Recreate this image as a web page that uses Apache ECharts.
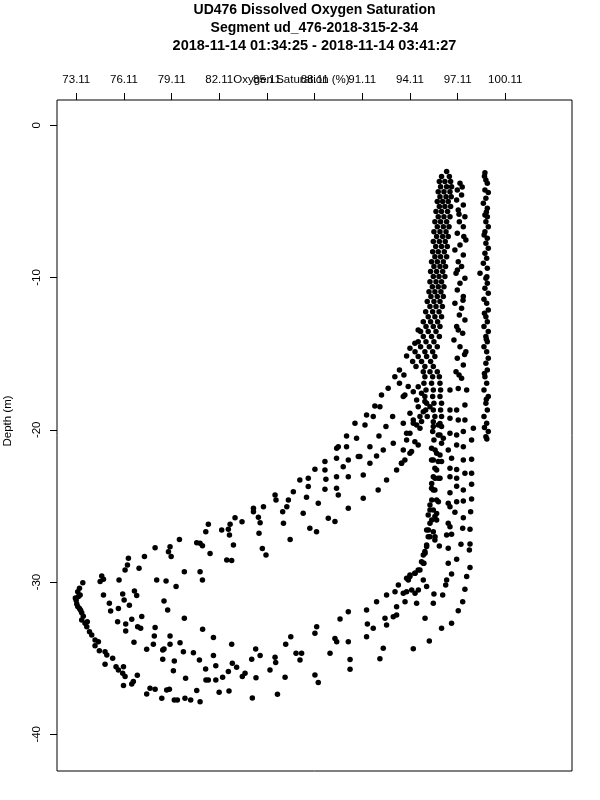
<!DOCTYPE html>
<html>
<head>
<meta charset="utf-8">
<script src="https://cdn.jsdelivr.net/npm/echarts/dist/echarts.min.js"></script>
<style>
html,body{margin:0;padding:0;background:#fff;}
#chart{width:600px;height:800px;}
</style>
</head>
<body>
<div id="chart"></div>
<script>
const titleLines = [
  'UD476 Dissolved Oxygen Saturation',
  'Segment ud_476-2018-315-2-34',
  '2018-11-14 01:34:25 - 2018-11-14 03:41:27'
];
const xAxisName = 'Oxygen Saturation (%)';
const yAxisName = 'Depth (m)';
const xTickValues = [73.11, 76.11, 79.11, 82.11, 85.11, 88.11, 91.11, 94.11, 97.11, 100.11];
const yTickValues = [0, -10, -20, -30, -40];

// [oxygen saturation %, depth m]
const rightColumn = [
[98.83,-3.11],[98.80,-3.35],[98.89,-3.59],[98.98,-3.81],[98.83,-4.25],[99.04,-4.42],[98.89,-4.80],[98.73,-5.12],[98.98,-5.45],[98.92,-5.70],
[98.83,-5.89],[98.98,-6.00],[98.89,-6.33],[99.04,-6.66],[98.83,-6.99],[98.78,-7.20],[98.98,-7.42],[98.89,-7.75],[99.04,-8.08],[98.83,-8.41],
[98.94,-8.74],[98.73,-9.06],[98.98,-9.39],[98.52,-9.72],[98.95,-9.95],[98.89,-10.05],[98.98,-10.38],[98.83,-10.71],[99.04,-11.04],[98.77,-11.43],
[98.94,-11.69],[99.04,-12.13],[98.80,-12.35],[98.89,-12.57],[98.98,-12.90],[98.77,-13.22],[99.04,-13.55],[98.89,-13.88],[98.92,-14.05],[98.98,-14.21],
[98.77,-14.54],[98.94,-14.87],[99.04,-15.30],[98.89,-15.63],[98.98,-16.07],[98.80,-16.30],[98.83,-16.51],[98.94,-16.94],[98.77,-17.38],[99.04,-17.82],
[98.92,-18.00],[98.89,-18.26],[98.98,-18.70],[98.77,-19.13],[98.94,-19.57],[98.80,-19.85],[99.04,-20.12],[98.89,-20.45],[98.95,-20.60]
];

const middleColumn = [
[97.26,-3.81],[97.40,-4.05],[97.09,-4.25],[97.36,-4.58],[97.05,-4.91],[97.47,-5.23],[97.15,-5.56],[97.20,-5.85],[97.57,-6.00],[97.22,-6.33],
[97.47,-6.66],[97.09,-7.09],[97.50,-7.30],[97.63,-7.53],[97.26,-7.86],[96.94,-8.19],[97.47,-8.52],[97.15,-8.96],[97.36,-9.28],[97.10,-9.50],
[97.01,-9.72],[97.57,-10.05],[97.26,-10.38],[97.09,-10.82],[97.47,-11.25],[97.45,-11.50],[96.94,-11.69],[97.36,-12.02],[97.22,-12.46],[97.57,-12.79],
[97.05,-13.22],[97.15,-13.45],[97.43,-13.66],[96.88,-14.10],[97.26,-14.54],[97.63,-14.87],[97.55,-15.05],[97.09,-15.30],[97.47,-15.74],[97.01,-16.18],
[97.20,-16.40],[97.36,-16.62],
[96.63,-17.39],[97.15,-17.28],[97.68,-17.39],[96.63,-18.70],[97.05,-18.70],[97.57,-18.37],[97.57,-19.36],[97.15,-19.36],[96.63,-19.25],
[96.63,-20.23],[97.05,-20.34],[97.47,-20.12],[98.10,-19.90],[96.52,-21.33],[97.05,-21.00],[97.47,-21.11],[97.99,-20.67],[96.73,-21.87],[97.47,-21.98],
[97.99,-21.94],[96.63,-22.53],[97.05,-22.60],[97.57,-22.86],[97.99,-22.86],[96.63,-23.08],[97.05,-23.19],[97.99,-23.58],[96.63,-24.13],[97.05,-23.70],
[97.47,-23.95],[97.99,-24.54],[96.52,-24.83],[97.05,-24.72],[97.47,-24.68],[96.63,-25.05],[96.94,-25.42],[97.47,-25.77],[97.93,-25.38],[96.52,-26.14],
[96.63,-26.36],[97.43,-26.47],[97.89,-26.54],[96.42,-26.91],[96.73,-26.86],[96.52,-27.78],[97.32,-27.52],[97.89,-27.50],[97.85,-27.89],[97.05,-28.51],
[96.52,-28.77],[97.89,-29.05],[96.73,-29.47],[97.68,-29.64],[96.42,-29.86],[96.36,-30.19],[97.57,-30.48],[96.17,-30.85],[95.62,-30.78],[97.43,-31.29],
[97.15,-31.88],[96.73,-32.71],[96.10,-33.04],[95.33,-33.87],[95.58,-31.40],[95.06,-32.38]
];

const denseColumn = [
[96.42,-3.04],[96.10,-3.37],[96.59,-3.37],[95.96,-3.70],[96.31,-3.70],[96.67,-3.70],[96.04,-4.03],[96.42,-4.03],[96.73,-4.03],
[95.89,-4.36],[96.25,-4.36],[96.63,-4.36],[96.00,-4.69],[96.38,-4.69],[96.71,-4.69],[95.83,-5.01],[96.17,-5.01],[96.52,-5.01],
[95.96,-5.34],[96.31,-5.34],[96.67,-5.34],[95.75,-5.67],[96.10,-5.67],[96.48,-5.67],[95.89,-6.00],[96.25,-6.00],[96.63,-6.00],
[95.68,-6.33],[96.04,-6.33],[96.42,-6.33],[95.83,-6.66],[96.21,-6.66],[96.57,-6.66],[95.62,-6.99],[96.00,-6.99],[96.38,-6.99],
[95.79,-7.31],[96.17,-7.31],[96.52,-7.31],[95.58,-7.64],[95.96,-7.64],[96.33,-7.64],[95.73,-7.97],[96.10,-7.97],[96.46,-7.97],
[95.54,-8.30],[95.89,-8.30],[96.27,-8.30],[95.68,-8.63],[96.04,-8.63],[96.42,-8.63],[95.47,-8.96],[95.83,-8.96],[96.21,-8.96],
[95.62,-9.28],[96.00,-9.28],[96.35,-9.28],[95.41,-9.61],[95.79,-9.61],[96.17,-9.61],[95.58,-9.94],[95.94,-9.94],[96.31,-9.94],
[95.37,-10.27],[95.75,-10.27],[96.10,-10.27],[95.52,-10.60],[95.89,-10.60],[96.25,-10.60],[95.31,-10.93],[95.68,-10.93],[96.06,-10.93],
[95.43,-11.25],[95.83,-11.25],[96.21,-11.25],[95.20,-11.58],[95.62,-11.58],[96.00,-11.58],[95.37,-11.91],[95.75,-11.91],[96.15,-11.91],
[95.10,-12.24],[95.54,-12.24],[95.94,-12.24],[95.26,-12.57],[95.68,-12.57],[96.10,-12.57],[94.95,-12.90],[95.41,-12.90],[95.85,-12.90],
[95.12,-13.22],[95.58,-13.22],[96.00,-13.22],[94.78,-13.55],[95.26,-13.55],[95.75,-13.55],[94.95,-13.88],[95.47,-13.88],[95.96,-13.88],
[94.63,-14.21],[95.12,-14.21],[95.62,-14.21],[94.78,-14.54],[95.33,-14.54],[95.83,-14.54],[94.43,-14.87],[95.05,-14.87],[95.54,-14.87],
[94.63,-15.19],[95.16,-15.19],[95.68,-15.19],[94.28,-15.52],[94.84,-15.52],[95.41,-15.52],[94.49,-15.85],[95.05,-15.85],[95.58,-15.85],
[94.95,-16.18],[95.37,-16.18],[95.83,-16.18],[95.05,-16.51],[95.54,-16.51],[95.96,-16.51],[94.99,-16.94],[95.47,-16.94],[96.00,-16.94],
[95.12,-17.38],[95.58,-17.38],[96.04,-17.38],[95.05,-17.82],[95.54,-17.82],[96.00,-17.82],[95.16,-18.26],[95.62,-18.26],[96.10,-18.26],
[95.10,-18.70],[95.58,-18.70],[96.04,-18.70],[95.20,-19.13],[95.68,-19.13],[96.10,-19.13],
[95.58,-19.47],[95.90,-19.68],[96.10,-19.79],[95.54,-20.12],[96.00,-20.34],[95.62,-20.67],[96.10,-20.89],[95.69,-21.33],[96.00,-21.65],
[95.58,-21.98],[96.10,-22.09],[95.79,-22.64],[95.69,-23.19],[96.00,-23.19],[95.48,-23.52],[95.58,-23.95],[95.48,-24.61],[95.90,-24.72],
[95.37,-25.27],[95.79,-25.49],[95.48,-25.92],[95.79,-25.92],[95.27,-26.58],[95.69,-27.02],[95.37,-27.02],[95.16,-27.67],[95.96,-27.63],
[95.06,-28.11],[94.95,-28.77],[94.74,-29.21],[94.43,-29.43],[94.11,-29.64],[94.01,-29.87],[94.22,-30.52],[93.90,-30.63],[93.38,-30.20],
[93.17,-30.63],[92.64,-30.85],[92.01,-31.29],[91.38,-31.84],[90.23,-31.95],[89.71,-32.43],[88.24,-32.93],[88.13,-33.37],
[94.95,-29.86],[94.64,-30.52],[95.16,-30.30],
[96.00,-19.58],[95.58,-19.79],[95.89,-20.34],[96.21,-20.56],[95.47,-21.22],[95.79,-21.54],[95.47,-21.98],[95.89,-22.09],[95.68,-22.53],
[95.58,-23.08],[95.89,-23.19],[95.47,-23.84],[95.68,-23.95],[95.79,-24.61],[95.37,-24.94],[95.58,-25.27],[95.26,-25.59],[95.68,-25.70],
[95.37,-26.14],[95.16,-26.58],[95.58,-26.69],[95.26,-27.02],[95.68,-27.24],[95.16,-27.56],[95.05,-28.00],[94.95,-28.22],[94.84,-28.66],
[94.99,-28.77],[94.63,-29.21],[94.42,-29.43],[94.11,-29.54],[93.90,-29.75]
];

const upperArcs = [
[94.63,-13.44],[94.42,-14.32],[94.11,-14.65],[93.90,-15.15],[93.45,-16.07],[93.73,-16.40],[93.16,-16.51],[93.45,-16.95],[92.74,-17.27],
[92.32,-17.71],[93.69,-17.82],[91.90,-18.43],[92.22,-18.48],[91.38,-19.03],[91.80,-19.13],[90.65,-19.57],[91.28,-19.68],[90.12,-20.40],
[90.75,-20.56],[89.60,-21.11],[90.12,-21.11],[89.49,-21.87],[88.76,-22.09],[88.13,-22.59],[88.76,-22.64],[87.18,-23.29],[87.71,-23.18],
[87.71,-23.73],[88.76,-23.91],
[93.02,-19.13],[92.60,-19.79],[92.16,-20.40],[91.59,-21.11],[90.86,-21.76],[90.23,-21.98],[89.91,-22.42],[89.49,-23.08],[90.23,-23.08],
[91.17,-22.97],[88.82,-23.25],[89.49,-23.84],[88.34,-24.83],[87.60,-24.43],[87.39,-25.48],[87.81,-26.47],[88.23,-26.69],[88.97,-25.81],
[89.39,-26.03],[90.23,-25.15],[91.17,-24.50],[92.11,-23.95],[92.64,-23.29],[93.27,-22.64],[93.58,-22.20],[94.11,-21.54],[94.63,-21.00],
[93.90,-20.23],[93.69,-19.57],[94.32,-19.57],[94.74,-19.13],[94.95,-18.81],[95.37,-18.48],[94.00,-17.16],
[89.50,-21.22],[90.96,-21.76],[91.59,-22.20],[92.01,-21.72],[92.43,-21.33],[93.06,-20.89],[89.60,-24.28],
[93.79,-17.71],[94.32,-17.50],[94.63,-17.17],[94.84,-17.60],[94.53,-18.04],[95.05,-18.15],[94.63,-18.48],[94.11,-18.92],[94.32,-19.36],
[94.84,-19.46],[94.53,-19.68],[94.74,-19.90],[94.11,-20.23],[93.90,-20.67],[94.42,-20.78],[93.69,-21.33],[94.21,-21.43],[93.79,-21.98],
[93.58,-22.20]
];

const lowerLoop = [
[86.77,-24.07],[86.46,-24.61],[85.62,-24.29],[85.68,-24.61],[86.36,-25.05],[86.10,-25.38],[84.89,-25.05],[84.26,-25.16],[84.26,-25.38],
[84.57,-25.75],[83.54,-26.04],[83.10,-25.77],[82.79,-26.21],[82.26,-26.58],[82.68,-26.54],[82.75,-26.91],[81.42,-26.21],[81.26,-26.69],
[80.69,-27.42],[80.90,-27.46],[81.05,-27.61],[79.60,-27.20],[79.01,-27.68],[78.91,-28.01],[79.08,-28.33],[78.07,-27.74],[77.40,-28.33],
[76.39,-28.44],[76.33,-28.88],[76.18,-29.21],[77.06,-29.10],[75.80,-29.87],[74.82,-29.82],[74.71,-29.60],[74.61,-29.97],[73.52,-30.04],
[73.31,-30.41],[73.20,-30.63],[73.35,-30.85],[73.25,-30.95],[73.05,-31.05],[73.10,-31.20],[73.14,-31.44],[73.20,-31.60],[73.31,-31.73],
[73.38,-31.85],[73.45,-32.01],[73.55,-32.25],[73.45,-32.49],[73.80,-32.60],[73.66,-32.71],[73.77,-32.93],[73.94,-33.26],[74.08,-33.48],
[74.29,-33.81],[74.50,-33.92],[74.29,-34.18],[74.56,-34.51],[74.92,-34.57],[75.03,-34.79],[75.40,-35.01],[74.92,-35.40],[75.61,-35.56],
[75.76,-35.77],[76.08,-35.56],[76.03,-35.99],[76.18,-36.21],[76.08,-36.80],[76.60,-36.70],[76.70,-36.54],[76.95,-36.12],[77.54,-37.35],
[77.75,-36.98],[78.07,-37.04],[78.49,-37.63],[78.80,-37.09],[78.97,-37.04],[79.28,-37.75],[79.47,-37.75],[79.95,-37.64],[80.31,-37.75],
[80.90,-37.86],[80.69,-37.13],[82.10,-37.24],[82.72,-37.16],[84.19,-37.61],[85.77,-37.37],
[83.00,-27.57],[82.58,-28.55],[82.89,-28.59],[81.53,-28.12],[79.91,-29.32],[80.90,-29.32],[81.05,-29.87],[79.39,-30.30],[78.76,-29.93],
[78.17,-29.87],[74.82,-30.85],[75.19,-31.40],[75.27,-31.90],[75.76,-31.73],[76.03,-30.79],[76.12,-31.18],[76.45,-31.53],[76.77,-30.59],
[76.91,-30.89],[75.71,-32.60],[76.22,-32.75],[76.22,-33.22],[76.60,-32.45],[77.23,-32.27],[76.97,-32.93],[77.16,-33.04],[78.07,-32.99],
[78.02,-33.54],[79.01,-33.54],[79.01,-34.09],[78.63,-31.24],[78.86,-31.84],[79.91,-32.38],[81.06,-33.10],[81.74,-33.65],[82.89,-34.09],
[76.74,-33.96],[77.54,-34.42],[77.96,-34.09],[78.55,-34.46],[79.99,-36.32],[79.22,-35.82],[79.28,-35.18],[78.55,-35.07],[78.63,-34.40],
[79.64,-33.98],[79.85,-34.57],[80.48,-34.64],[80.86,-35.12],[81.25,-35.71],[81.74,-34.83],[81.89,-35.49],[81.27,-36.43],[81.42,-36.43],
[81.89,-36.43],[82.32,-36.26],[82.68,-35.88],[82.93,-35.34],[83.20,-35.60],[83.56,-36.21],[83.73,-35.99],[84.15,-35.07],[84.40,-34.40],
[84.68,-34.83],[84.42,-36.28],[85.30,-35.77],[85.62,-34.94],[85.66,-35.29],[86.25,-36.26],[86.29,-34.09],[86.61,-33.59],[86.94,-34.68],
[86.15,-26.14],[86.57,-27.20],[84.68,-26.10],[84.61,-26.80],[84.82,-27.79],[85.05,-28.23],
[93.69,-30.74],[93.80,-31.29],[94.53,-31.40],[94.43,-30.74],[93.27,-31.62],[93.06,-32.28],[93.27,-32.17],[92.54,-32.38],[92.64,-32.82],
[91.80,-33.04],[91.43,-32.76],[91.38,-33.59],[90.23,-33.92],[89.50,-33.92],[89.39,-33.70],[89.08,-34.68],[87.29,-34.68],[87.19,-35.12],
[88.13,-36.11],[88.34,-36.59],[90.34,-35.08],[90.34,-35.73],[92.22,-35.03],[92.43,-34.35],[94.32,-34.38]
];

const FONT = '"Liberation Sans", Arial, Helvetica, sans-serif';
const chart = echarts.init(document.getElementById('chart'), null, {renderer: 'canvas'});

function dotSeries(name, data) {
  return {
    name: name, type: 'scatter', data: data,
    symbol: 'circle', symbolSize: 5.5,
    itemStyle: {color: '#000', opacity: 1},
    silent: true, animation: false
  };
}

const titleSizes = [14, 14, 14.5];
const titleY = [10, 28, 45.5];
const graphics = titleLines.map((t, i) => ({
  type: 'text', x: 314.5, y: titleY[i],
  style: {text: t, fontSize: titleSizes[i], fontWeight: 'bold', fontFamily: FONT, fill: '#000',
          align: 'center', verticalAlign: 'middle'}
}));
graphics.push({
  type: 'text', x: 291.5, y: 80,
  style: {text: xAxisName, fontSize: 11.5, fontFamily: FONT, fill: '#000', align: 'center', verticalAlign: 'middle'}
});
graphics.push({
  type: 'text', x: 8, y: 421, rotation: Math.PI / 2,
  style: {text: yAxisName, fontSize: 11.5, fontFamily: FONT, fill: '#000', align: 'center', verticalAlign: 'middle'}
});

chart.setOption({
  backgroundColor: '#fff',
  animation: false,
  graphic: graphics,
  grid: {left: 57, right: 28, top: 100, bottom: 29, containLabel: false, outerBoundsMode: 'none',
         show: true, borderColor: '#000', borderWidth: 1, backgroundColor: 'transparent'},
  xAxis: {
    type: 'value', position: 'top', min: 71.895, max: 104.31,
    axisLine: {show: false, onZero: false},
    splitLine: {show: false},
    axisTick: {show: true, customValues: xTickValues, length: 7, lineStyle: {color: '#000', width: 1}},
    axisLabel: {show: true, customValues: xTickValues, margin: 14, fontSize: 11.5, fontFamily: FONT, color: '#000',
                formatter: v => Number(v).toFixed(2)}
  },
  yAxis: {
    type: 'value', min: -42.41, max: 1.66,
    axisLine: {show: false, onZero: false},
    splitLine: {show: false},
    axisTick: {show: true, customValues: yTickValues, length: 7, lineStyle: {color: '#000', width: 1}},
    axisLabel: {show: true, customValues: yTickValues, rotate: 90, margin: 14, fontSize: 11.5, fontFamily: FONT, color: '#000',
                formatter: v => String(v)}
  },
  series: [
    dotSeries('right', rightColumn),
    dotSeries('middle', middleColumn),
    dotSeries('dense', denseColumn),
    dotSeries('arcs', upperArcs),
    dotSeries('loop', lowerLoop)
  ]
});
</script>
</body>
</html>
